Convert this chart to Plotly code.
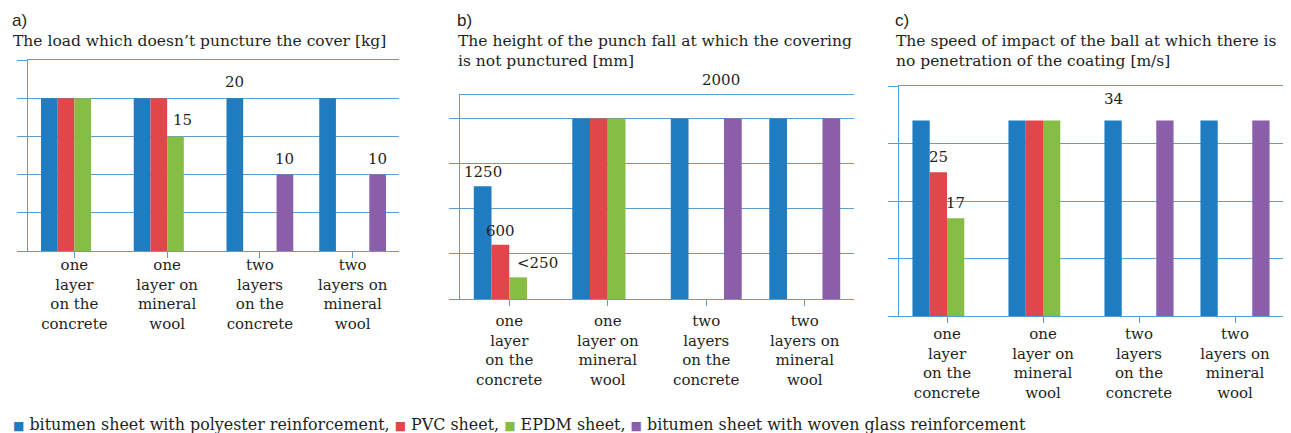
import plotly.graph_objects as go

# ---------------- data ----------------
categories = [
    "one<br>layer<br>on the<br>concrete",
    "one<br>layer on<br>mineral<br>wool",
    "two<br>layers<br>on the<br>concrete",
    "two<br>layers on<br>mineral<br>wool",
]
series_names = [
    "bitumen sheet with polyester reinforcement",
    "PVC sheet",
    "EPDM sheet",
    "bitumen sheet with woven glass reinforcement",
]

# a) load which doesn't puncture the cover [kg]
a_polyester = [20, 20, 20, 20]
a_pvc = [20, 20, None, None]
a_epdm = [20, 15, None, None]
a_glass = [None, None, 10, 10]

# b) height of punch fall [mm]
b_polyester = [1250, 2000, 2000, 2000]
b_pvc = [600, 2000, None, None]
b_epdm = [240, 2000, None, None]
b_glass = [None, None, 2000, 2000]

# c) speed of impact of the ball [m/s]
c_polyester = [34, 34, 34, 34]
c_pvc = [25, 34, None, None]
c_epdm = [17, 34, None, None]
c_glass = [None, None, 34, 34]

# value labels: (category index, series index, value, label text)
a_labels = [(2, 0, 20, "20"), (1, 2, 15, "15"), (2, 3, 10, "10"), (3, 3, 10, "10")]
b_labels = [(0, 0, 1250, "1250"), (0, 1, 600, "600"), (0, 2, 240, "<250"), (2, 3, 2000, "2000")]
c_labels = [(2, 0, 34, "34"), (0, 1, 25, "25"), (0, 2, 17, "17")]

titles = [
    ("a)", ["The load which doesn\u2019t puncture the cover [kg]"]),
    ("b)", ["The height of the punch fall at which the covering", "is not punctured [mm]"]),
    ("c)", ["The speed of impact of the ball at which there is", "no penetration of the coating [m/s]"]),
]

colors = ["#1f7cc1", "#e1464b", "#86bd45", "#8a5ea9"]
grid_col = "#5b9fcf"
text_col = "#231f20"
serif = "DejaVu Serif, Liberation Serif, serif"
sans = "Liberation Sans, Arial, sans-serif"

W, H = 1291, 433
BARGAP = 0.28


def px_x(p):
    return p / W


def px_y(p):
    return 1 - p / H


# panel pixel geometry: (left, right, top, bottom)
panels = [(28, 399, 60, 251), (460, 854, 95, 299), (899, 1283, 86, 316)]
ranges = [[0, 25], [0, 2260], [0, 40]]
dticks = [5, 500, 10]
standoffs = [-6, 2, -2]
data = [
    [a_polyester, a_pvc, a_epdm, a_glass],
    [b_polyester, b_pvc, b_epdm, b_glass],
    [c_polyester, c_pvc, c_epdm, c_glass],
]
labels = [a_labels, b_labels, c_labels]
label_shift = [16, 14, 15]

fig = go.Figure()
annotations = []

for k in range(3):
    sfx = "" if k == 0 else str(k + 1)
    for i, vals in enumerate(data[k]):
        fig.add_trace(go.Bar(
            x=list(range(len(categories))), y=vals, name=series_names[i],
            marker=dict(color=colors[i], line=dict(width=0)),
            xaxis="x" + sfx, yaxis="y" + sfx, showlegend=False,
        ))
    l, r, t, b = panels[k]
    fig.update_layout(**{
        "xaxis" + sfx: dict(
            domain=[px_x(l), px_x(r)], anchor="y" + sfx,
            tickmode="array", tickvals=list(range(4)), ticktext=categories,
            range=[-0.5, 3.5], showline=True, linecolor=grid_col, linewidth=1.2,
            mirror=True, ticks="outside", ticklen=6, tickcolor=grid_col,
            ticklabelstandoff=standoffs[k],
            tickfont=dict(family=serif, size=15, color=text_col),
            showgrid=False, zeroline=False,
        ),
        "yaxis" + sfx: dict(
            domain=[px_y(b), px_y(t)], anchor="x" + sfx,
            range=ranges[k], dtick=dticks[k], showticklabels=False,
            ticks="outside", ticklen=10, tickcolor=grid_col,
            showgrid=True, gridcolor=grid_col, gridwidth=1.2,
            showline=True, linecolor=grid_col, linewidth=1.2,
            zeroline=False,
        ),
    })
    # value labels
    slot = (1 - BARGAP) / 4
    for (ci, si, v, txt) in labels[k]:
        xpos = ci - (1 - BARGAP) / 2 + (si + 0.5) * slot
        ysh = label_shift[k]
        if txt == "2000":
            ysh = 38
            xpos = ci + 0.15
        if txt == "34":
            ysh = 21
        if txt == "<250":
            xpos += 0.2
        if txt == "15":
            xpos += 0.08
        annotations.append(dict(
            x=xpos, y=v, xref="x" + sfx, yref="y" + sfx, text=txt,
            showarrow=False, yshift=ysh, yanchor="middle",
            font=dict(family=serif, size=15, color=text_col),
        ))

# panel titles
title_x = [10, 455, 893]
for k, (tag, lines) in enumerate(titles):
    annotations.append(dict(
        x=px_x(title_x[k]), y=px_y(20), xref="paper", yref="paper",
        text=tag, showarrow=False, xanchor="left", yanchor="middle",
        font=dict(family=sans, size=17, color=text_col),
    ))
    for j, line in enumerate(lines):
        annotations.append(dict(
            x=px_x(title_x[k] + 1), y=px_y(41 + 20 * j), xref="paper", yref="paper",
            text=line, showarrow=False, xanchor="left", yanchor="middle",
            font=dict(family=serif, size=15.5, color=text_col),
        ))

# legend line
parts = []
for i, nm in enumerate(series_names):
    sep = "," if i < len(series_names) - 1 else ""
    parts.append("<span style='color:%s;font-size:12px'>\u25A0</span> %s%s" % (colors[i], nm, sep))
annotations.append(dict(
    x=px_x(11), y=px_y(424), xref="paper", yref="paper",
    text=" ".join(parts), showarrow=False, xanchor="left", yanchor="middle",
    font=dict(family=serif, size=15.9, color=text_col),
))

fig.update_layout(
    width=W, height=H, margin=dict(l=0, r=0, t=0, b=0),
    barmode="group", bargap=BARGAP, bargroupgap=0,
    plot_bgcolor="white", paper_bgcolor="white",
    annotations=annotations,
)

fig.write_html(
    "out.html",
    config={"displayModeBar": False},
    post_script="document.body.style.margin='0';document.body.style.padding='0';",
)
